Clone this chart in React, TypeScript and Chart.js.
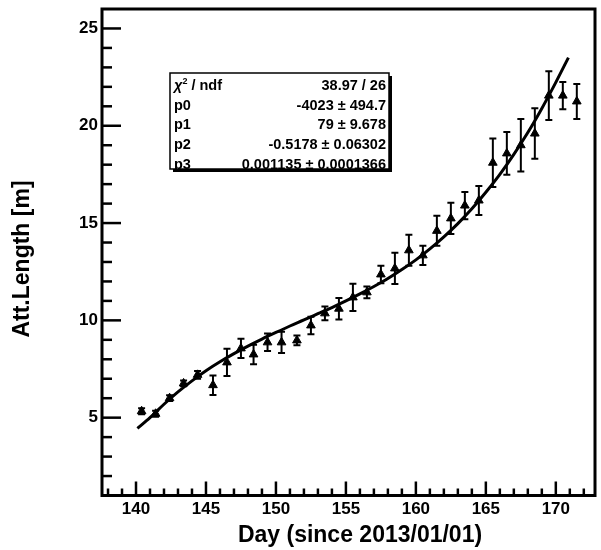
import React, { useEffect, useRef } from "react";
import { Chart, registerables } from "chart.js";

Chart.register(...registerables);

// ---- data ----
const days = [
  140.4, 141.4, 142.4, 143.4, 144.4, 145.5, 146.5, 147.5, 148.4, 149.4,
  150.4, 151.5, 152.5, 153.5, 154.5, 155.5, 156.5, 157.5, 158.5, 159.5,
  160.5, 161.5, 162.5, 163.5, 164.5, 165.5, 166.5, 167.5, 168.5, 169.5,
  170.5, 171.5,
];
const attLength = [
  5.33, 5.2, 6.0, 6.76, 7.2, 6.67, 7.84, 8.56, 8.25, 8.87,
  8.87, 8.97, 9.74, 10.36, 10.6, 11.18, 11.44, 12.36, 12.67, 13.6,
  13.34, 14.6, 15.24, 15.9, 16.16, 18.1, 18.58, 19.0, 19.6, 21.55,
  21.55, 21.25,
];
const attErrors = [
  0.15, 0.15, 0.15, 0.15, 0.2, 0.5, 0.7, 0.5, 0.5, 0.45,
  0.55, 0.25, 0.45, 0.35, 0.55, 0.7, 0.3, 0.45, 0.8, 0.8,
  0.5, 0.77, 0.8, 0.7, 0.75, 1.25, 1.1, 1.35, 1.3, 1.25,
  0.7, 0.9,
];
const fitDays = [
  140.1, 141, 142, 143, 144, 145, 146, 147, 148, 149, 150, 151, 152, 153,
  154, 155, 156, 157, 158, 159, 160, 161, 162, 163, 164, 165, 166, 167,
  168, 169, 170, 170.9,
];
const fitValues = [
  4.45, 5.0, 5.69, 6.32, 6.89, 7.41, 7.87, 8.29, 8.68, 9.04, 9.38, 9.71,
  10.02, 10.34, 10.66, 11.0, 11.36, 11.74, 12.15, 12.61, 13.11, 13.67,
  14.29, 14.97, 15.73, 16.58, 17.5, 18.53, 19.65, 20.89, 22.23, 23.5,
];
const xTickValues = [140, 145, 150, 155, 160, 165, 170];
const yTickValues = [5, 10, 15, 20, 25];
const xRange = [137.57, 172.8];
const yRange = [1, 26];
const statLabels = ["ndf", "p0", "p1", "p2", "p3"];
const statValues = [
  "38.97 / 26",
  "-4023 \u00b1 494.7",
  "79 \u00b1 9.678",
  "-0.5178 \u00b1 0.06302",
  "0.001135 \u00b1 0.0001366",
];
const xTitle = "Day (since 2013/01/01)";
const yTitle = "Att.Length [m]";

const FONT = "'Liberation Sans', Arial, Helvetica, sans-serif";

const rootPlugin = {
  id: "rootStyle",
  beforeDatasetsDraw(chart: any) {
    const { ctx, chartArea } = chart;
    const xs = chart.scales.x;
    const ys = chart.scales.y;
    ctx.save();
    ctx.beginPath();
    ctx.rect(chartArea.left, chartArea.top, chartArea.right - chartArea.left, chartArea.bottom - chartArea.top);
    ctx.clip();
    ctx.strokeStyle = "#000";
    ctx.lineWidth = 2;
    for (let i = 0; i < days.length; i++) {
      const px = xs.getPixelForValue(days[i]);
      const y1 = ys.getPixelForValue(attLength[i] + attErrors[i]);
      const y2 = ys.getPixelForValue(attLength[i] - attErrors[i]);
      ctx.beginPath();
      ctx.moveTo(px, y1);
      ctx.lineTo(px, y2);
      ctx.moveTo(px - 3.5, y1);
      ctx.lineTo(px + 3.5, y1);
      ctx.moveTo(px - 3.5, y2);
      ctx.lineTo(px + 3.5, y2);
      ctx.stroke();
    }
    ctx.restore();
  },
  afterDraw(chart: any) {
    const { ctx, chartArea } = chart;
    const { left, right, top, bottom } = chartArea;
    const xs = chart.scales.x;
    const ys = chart.scales.y;
    ctx.save();
    ctx.strokeStyle = "#000";
    ctx.fillStyle = "#000";
    // frame
    ctx.lineWidth = 3;
    ctx.strokeRect(left, top, right - left, bottom - top);
    // y ticks
    ctx.lineWidth = 2.5;
    for (let v = Math.ceil(yRange[0]); v <= yRange[1]; v++) {
      const py = ys.getPixelForValue(v);
      if (py < top + 1 || py > bottom - 1) continue;
      const len = v % 5 === 0 ? 19 : 10;
      ctx.beginPath();
      ctx.moveTo(left, py);
      ctx.lineTo(left + len, py);
      ctx.stroke();
    }
    // x ticks
    for (let v = Math.ceil(xRange[0]); v <= xRange[1]; v++) {
      const px = xs.getPixelForValue(v);
      if (px < left + 1 || px > right - 1) continue;
      const len = v % 5 === 0 ? 14 : 7;
      ctx.beginPath();
      ctx.moveTo(px, bottom);
      ctx.lineTo(px, bottom - len);
      ctx.stroke();
    }
    // axis titles
    ctx.font = "bold 23px " + FONT;
    ctx.textAlign = "center";
    ctx.textBaseline = "middle";
    ctx.fillText(xTitle, 360, 536);
    ctx.save();
    ctx.translate(23, 259);
    ctx.rotate(-Math.PI / 2);
    ctx.fillText(yTitle, 0, 0);
    ctx.restore();

    // stats box
    const bx = 170, by = 73, bw = 219, bh = 96;
    ctx.fillStyle = "#fff";
    ctx.fillRect(bx, by, bw, bh);
    ctx.fillStyle = "#000";
    ctx.fillRect(bx + bw, by + 3, 3, bh);
    ctx.fillRect(bx + 3, by + bh, bw, 3);
    ctx.lineWidth = 1.5;
    ctx.strokeRect(bx, by, bw, bh);

    const rowY = [90, 110, 129, 149, 169];
    ctx.textBaseline = "alphabetic";
    ctx.font = "bold 14.5px " + FONT;
    for (let i = 0; i < statValues.length; i++) {
      ctx.textAlign = "right";
      ctx.fillText(statValues[i], bx + bw - 3, rowY[i]);
      ctx.textAlign = "left";
      if (i === 0) {
        ctx.font = "italic bold 14.5px " + FONT;
        ctx.fillText("\u03c7", bx + 4, rowY[i]);
        const w = ctx.measureText("\u03c7").width;
        ctx.font = "bold 9px " + FONT;
        ctx.fillText("2", bx + 4 + w, rowY[i] - 6);
        const w2 = ctx.measureText("2").width;
        ctx.font = "bold 14.5px " + FONT;
        ctx.fillText(" / " + statLabels[i], bx + 4 + w + w2, rowY[i]);
      } else {
        ctx.fillText(statLabels[i], bx + 4, rowY[i]);
      }
    }
    ctx.restore();
  },
};

export default function App() {
  const ref = useRef<HTMLCanvasElement | null>(null);
  useEffect(() => {
    if (!ref.current) return;
    const chart = new Chart(ref.current, {
      type: "scatter",
      data: {
        datasets: [
          {
            type: "line",
            label: "fit",
            data: fitDays.map((d, i) => ({ x: d, y: fitValues[i] })),
            borderColor: "#000",
            borderWidth: 3,
            pointRadius: 0,
            cubicInterpolationMode: "monotone",
            fill: false,
          } as any,
          {
            label: "data",
            data: days.map((d, i) => ({ x: d, y: attLength[i] })),
            pointStyle: "triangle",
            pointRadius: 5,
            backgroundColor: "#000",
            borderColor: "#000",
            borderWidth: 1,
          },
        ],
      },
      options: {
        responsive: false,
        animation: false,
        devicePixelRatio: 1,
        layout: { padding: { top: 9, right: 2, left: 0, bottom: 0 } },
        plugins: { legend: { display: false }, tooltip: { enabled: false } },
        scales: {
          x: {
            type: "linear",
            min: xRange[0],
            max: xRange[1],
            grid: { display: false, drawTicks: false },
            border: { display: false },
            afterBuildTicks: (s: any) => {
              s.ticks = xTickValues.map((v) => ({ value: v }));
            },
            afterFit: (s: any) => {
              s.height = 54.5;
              s.paddingLeft = 0;
              s.paddingRight = 0;
            },
            ticks: {
              padding: 4,
              color: "#000",
              font: { family: FONT, size: 17, weight: "bold" },
              maxRotation: 0,
              autoSkip: false,
            },
          },
          y: {
            type: "linear",
            min: yRange[0],
            max: yRange[1],
            grid: { display: false, drawTicks: false },
            border: { display: false },
            afterBuildTicks: (s: any) => {
              s.ticks = yTickValues.map((v) => ({ value: v }));
            },
            afterFit: (s: any) => {
              s.width = 102;
              s.paddingTop = 0;
              s.paddingBottom = 0;
            },
            ticks: {
              padding: 4,
              color: "#000",
              font: { family: FONT, size: 17, weight: "bold" },
              autoSkip: false,
            },
          },
        },
      },
      plugins: [rootPlugin],
    } as any);
    return () => chart.destroy();
  }, []);
  return (
    <div style={{ position: "absolute", left: 0, top: 0, width: 601, height: 550, background: "#fff" }}>
      <canvas ref={ref} width={601} height={550} style={{ display: "block", width: 601, height: 550 }} />
    </div>
  );
}
